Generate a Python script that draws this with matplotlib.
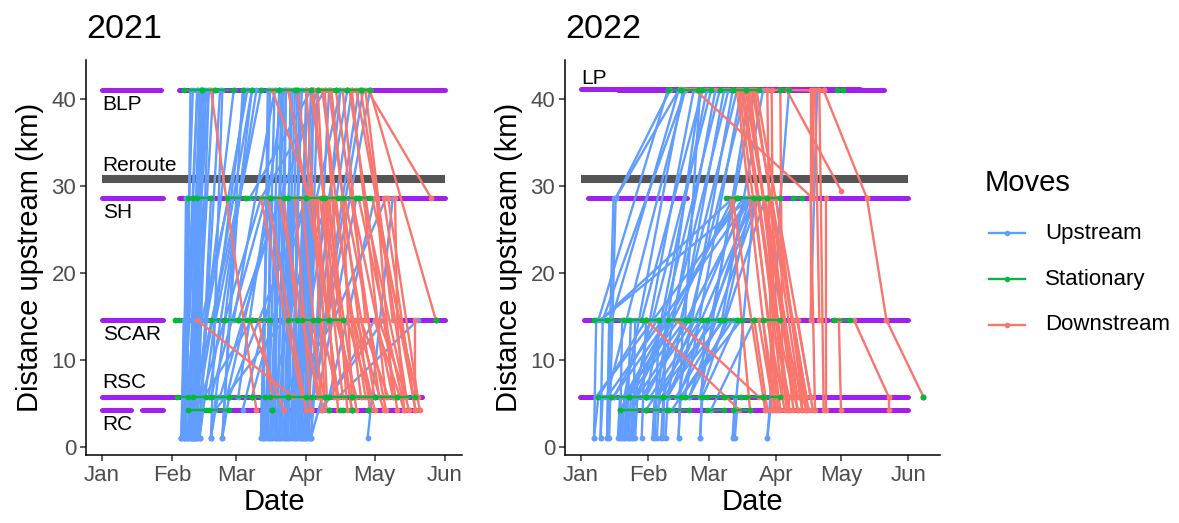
import matplotlib
matplotlib.use("Agg")
import matplotlib.pyplot as plt
import matplotlib.dates as mdates
from matplotlib.collections import LineCollection
from matplotlib.lines import Line2D
from datetime import datetime
import numpy as np

plt.rcParams['font.family'] = ['Liberation Sans', 'DejaVu Sans']

# ---------------- data (days after Jan 1, distance upstream km) ----------------
years = [2021, 2022]
month_ticks = ["Jan", "Feb", "Mar", "Apr", "May", "Jun"]
month_days = {2021: [0, 31, 59, 90, 120, 151], 2022: [0, 31, 59, 90, 120, 151]}
move_types = ["Upstream", "Stationary", "Downstream"]

# receiver-site coverage bars: (km, start day, end day)
sites_2021 = [(41.0, 0, 26), (41.0, 34, 151), (28.6, 0, 27), (28.6, 34, 151),
              (14.6, 0, 27), (14.6, 32, 121), (14.6, 128, 151), (5.8, 0, 141),
              (4.3, 0, 13), (4.3, 17.5, 27), (4.3, 37, 139)]
sites_2022 = [(41.2, 0, 129), (41.0, 17, 140), (28.6, 3, 49), (28.6, 67, 151),
              (14.6, 1.5, 114), (14.6, 116, 151), (5.8, -0.5, 151), (4.3, 18, 151)]
reroute_2021 = [(30.8, 0, 151)]
reroute_2022 = [(30.8, 0, 151)]

site_labels_2021 = ["BLP", "Reroute", "SH", "SCAR", "RSC", "RC"]
site_label_km_2021 = [39.4, 32.4, 27.0, 12.9, 7.4, 2.6]
site_labels_2022 = ["LP"]
site_label_km_2022 = [42.4]

# moves: (start day, start km, end day, end km)
up_2021 = [
    (35, 1.1, 40, 41.0), (35, 1.1, 38, 28.6), (35, 1.1, 36, 14.6), (35, 1.1, 37, 5.8),
    (36, 1.1, 42, 41.0), (36, 1.1, 41, 28.6), (38, 1.1, 43, 41.0), (38, 1.1, 40, 14.6),
    (38, 1.1, 42, 28.6), (39, 1.1, 44, 41.0), (40, 1.1, 45, 41.0), (40, 1.1, 43, 28.6),
    (40, 1.1, 49, 41.0), (41, 1.1, 45, 28.6), (42, 1.1, 47, 41.0), (42, 1.1, 44, 5.8),
    (43, 1.1, 48, 28.6), (43, 1.1, 52, 41.0), (48, 1.1, 53, 41.0), (48, 1.1, 51, 5.8),
    (53, 1.1, 60, 28.6), (53, 1.1, 56, 5.8), (43, 1.1, 63, 41.0), (48, 1.1, 66, 41.0),
    (53, 1.1, 62, 41.0), (40, 1.1, 58, 41.0),
    (37, 1.1, 39, 41.0), (39, 1.1, 41, 28.6), (41, 1.1, 43, 41.0), (36, 1.1, 37, 28.6),
    (42, 1.1, 44, 41.0), (37, 1.1, 38, 14.6), (39, 1.1, 40, 5.8), (41, 1.1, 42, 14.6),
    (36, 5.8, 42, 41.0), (37, 4.3, 45, 28.6), (38, 5.8, 47, 41.0), (40, 14.6, 46, 41.0),
    (41, 5.8, 60, 28.6), (42, 4.3, 66, 41.0), (44, 5.8, 70, 28.6), (46, 14.6, 64, 41.0),
    (48, 5.8, 72, 28.6), (50, 14.6, 70, 41.0), (52, 5.8, 62, 14.6), (55, 5.8, 75, 28.6),
    (58, 14.6, 76, 41.0), (60, 5.8, 80, 41.0), (62, 4.3, 85, 28.6), (45, 5.8, 66, 14.6),
    (50, 4.3, 80, 14.6), (56, 5.8, 90, 28.6), (44, 14.6, 56, 28.6), (47, 5.8, 68, 41.0),
    (70, 1.1, 73, 28.6), (70, 1.1, 74, 41.0), (71, 1.1, 72, 5.8), (72, 1.1, 76, 41.0),
    (72, 1.1, 75, 28.6), (73, 1.1, 78, 41.0), (74, 1.1, 76, 14.6), (74, 1.1, 79, 28.6),
    (75, 1.1, 80, 41.0), (76, 1.1, 78, 5.8), (77, 1.1, 81, 41.0), (77, 1.1, 80, 28.6),
    (78, 1.1, 84, 41.0), (79, 1.1, 82, 28.6), (80, 1.1, 83, 14.6), (80, 1.1, 85, 41.0),
    (81, 1.1, 84, 28.6), (82, 1.1, 86, 41.0), (83, 1.1, 85, 5.8), (83, 1.1, 88, 41.0),
    (84, 1.1, 86, 28.6), (85, 1.1, 90, 41.0), (86, 1.1, 88, 14.6), (86, 1.1, 89, 28.6),
    (87, 1.1, 92, 41.0), (88, 1.1, 91, 28.6), (89, 1.1, 93, 41.0), (89, 1.1, 90, 5.8),
    (90, 1.1, 95, 41.0), (91, 1.1, 94, 28.6), (92, 1.1, 100, 41.0), (92, 1.1, 96, 14.6),
    (92, 1.1, 97, 5.8),
    (71, 1.1, 73, 41.0), (73, 1.1, 74, 28.6), (75, 1.1, 77, 28.6), (76, 1.1, 79, 41.0),
    (78, 1.1, 80, 14.6), (79, 1.1, 81, 41.0), (81, 1.1, 83, 41.0), (82, 1.1, 83, 28.6),
    (84, 1.1, 87, 41.0), (85, 1.1, 86, 28.6), (87, 1.1, 89, 28.6), (88, 1.1, 90, 41.0),
    (90, 1.1, 92, 28.6), (91, 1.1, 93, 41.0),
    (88, 1.1, 110, 41.0), (90, 1.1, 115, 41.0), (85, 5.8, 108, 41.0), (92, 4.3, 118, 41.0),
    (95, 5.8, 112, 28.6), (98, 14.6, 113, 41.0), (100, 5.8, 120, 28.6), (102, 14.6, 125, 28.6),
    (117, 1.1, 128, 28.6), (104, 5.8, 139, 14.6), (97, 4.3, 120, 14.6), (95, 14.6, 105, 41.0),
    (70, 28.6, 98, 41.0), (65, 28.6, 92, 41.0), (60, 14.6, 95, 41.0), (75, 5.8, 105, 41.0),
    (80, 14.6, 100, 28.6), (66, 5.8, 90, 28.6), (62, 14.6, 78, 28.6), (78, 4.3, 95, 14.6),
    (82, 5.8, 102, 14.6), (96, 4.3, 124, 14.6),
]
down_2021 = [
    (48, 41.0, 68, 4.3), (42, 14.6, 84, 5.8), (65, 14.6, 80, 4.3), (70, 28.6, 88, 5.8),
    (73, 28.6, 90, 4.3), (69, 14.6, 75, 5.8), (78, 28.6, 95, 5.8), (82, 41.0, 100, 14.6),
    (85, 28.6, 92, 4.3), (86, 41.0, 104, 5.8), (90, 41.0, 98, 5.8), (92, 41.0, 110, 4.3),
    (94, 28.6, 104, 4.3), (95, 41.0, 102, 5.8), (96, 28.6, 106, 5.8), (97, 41.0, 114, 5.8),
    (98, 41.0, 108, 4.3), (99, 28.6, 112, 4.3), (100, 41.0, 118, 4.3), (100, 28.6, 105, 14.6),
    (101, 41.0, 106, 28.6), (102, 28.6, 116, 5.8), (103, 41.0, 122, 5.8), (104, 14.6, 110, 4.3),
    (105, 28.6, 120, 5.8), (106, 41.0, 116, 14.6), (107, 28.6, 125, 4.3), (108, 14.6, 118, 5.8),
    (109, 41.0, 130, 4.3), (110, 28.6, 128, 5.8), (111, 14.6, 120, 4.3), (112, 41.0, 138, 4.3),
    (113, 28.6, 132, 5.8), (114, 14.6, 126, 5.8), (115, 28.6, 135, 4.3), (116, 41.0, 128, 14.6),
    (117, 41.0, 145, 28.6), (118, 41.0, 147, 14.6), (119, 28.6, 140, 4.3), (120, 14.6, 133, 4.3),
    (121, 28.6, 128, 5.8), (122, 14.6, 134, 5.8), (124, 28.6, 138, 4.3), (126, 28.6, 139, 5.8),
    (129, 28.6, 130, 14.6), (130, 14.6, 133, 4.3), (138, 14.6, 138, 5.8), (75, 41.0, 92, 28.6),
    (80, 28.6, 86, 14.6), (88, 14.6, 96, 5.8), (91, 14.6, 99, 4.3), (93, 41.0, 103, 14.6),
    (96, 14.6, 104, 5.8), (88, 28.6, 97, 4.3), (103, 14.6, 112, 5.8), (106, 28.6, 110, 5.8),
    (95, 28.6, 99, 5.8), (110, 41.0, 125, 5.8), (112, 14.6, 124, 4.3), (114, 41.0, 134, 5.8),
]
stay_2021 = [
    (36, 41.0, 44, 41.0), (44, 41.0, 50, 41.0), (50, 41.0, 58, 41.0), (62, 41.0, 66, 41.0),
    (70, 41.0, 78, 41.0), (78, 41.0, 85, 41.0), (86, 41.0, 92, 41.0), (95, 41.0, 103, 41.0),
    (103, 41.0, 108, 41.0), (108, 41.0, 114, 41.0), (114, 41.0, 118, 41.0),
    (38, 28.6, 40, 28.6), (42, 28.6, 48, 28.6), (55, 28.6, 63, 28.6), (64, 28.6, 74, 28.6),
    (74, 28.6, 80, 28.6), (82, 28.6, 90, 28.6), (90, 28.6, 97, 28.6), (98, 28.6, 104, 28.6),
    (106, 28.6, 112, 28.6), (113, 28.6, 118, 28.6),
    (32, 14.6, 34, 14.6), (48, 14.6, 54, 14.6), (54, 14.6, 60, 14.6), (60, 14.6, 64, 14.6),
    (66, 14.6, 74, 14.6), (82, 14.6, 86, 14.6), (88, 14.6, 93, 14.6), (95, 14.6, 100, 14.6),
    (100, 14.6, 106, 14.6), (147, 14.6, 147, 14.6),
    (33, 5.8, 38, 5.8), (40, 5.8, 46, 5.8), (48, 5.8, 56, 5.8), (56, 5.8, 66, 5.8),
    (66, 5.8, 72, 5.8), (74, 5.8, 82, 5.8), (82, 5.8, 90, 5.8), (92, 5.8, 98, 5.8),
    (100, 5.8, 110, 5.8), (110, 5.8, 120, 5.8), (120, 5.8, 130, 5.8), (130, 5.8, 138, 5.8),
    (38, 4.3, 46, 4.3), (47, 4.3, 56, 4.3), (75, 4.3, 75, 4.3), (100, 4.3, 100, 4.3),
    (105, 4.3, 106, 4.3), (110, 4.3, 110, 4.3), (117, 4.3, 117, 4.3),
]

up_2022 = [
    (6, 1.1, 7, 14.6), (6, 1.1, 8, 5.8), (9, 1.1, 10, 14.6), (9, 1.1, 10, 5.8),
    (12, 1.1, 13, 14.6), (12, 1.1, 15, 28.6), (13, 1.1, 16, 28.6), (17, 1.1, 18, 5.8),
    (18, 1.1, 19, 14.6), (19, 1.1, 20, 5.8), (20, 1.1, 21, 5.8), (21, 1.1, 23, 14.6),
    (22, 1.1, 23, 5.8), (23, 1.1, 24, 5.8), (24, 1.1, 25, 14.6), (25, 1.1, 26, 5.8),
    (28, 1.1, 30, 14.6), (33, 1.1, 34, 5.8), (34, 1.1, 36, 14.6), (35, 1.1, 36, 5.8),
    (37, 1.1, 38, 5.8), (38, 1.1, 39, 14.6), (39, 1.1, 40, 5.8), (45, 1.1, 46, 5.8),
    (45, 1.1, 47, 14.6), (55, 1.1, 56, 5.8), (55, 1.1, 57, 14.6), (70, 1.1, 71, 5.8),
    (70, 1.1, 80, 28.6), (71, 1.1, 72, 4.3), (86, 1.1, 87, 4.3), (86, 1.1, 88, 5.8),
    (18, 1.1, 19, 4.3), (20, 1.1, 21, 4.3), (22, 1.1, 22, 4.3), (24, 1.1, 25, 4.3),
    (16, 28.6, 41, 41.0), (16, 28.6, 45, 41.0),
    (8, 14.6, 40, 41.0), (10, 14.6, 48, 41.0), (12, 5.8, 48, 41.0), (14, 14.6, 45, 41.0),
    (20, 5.8, 47, 41.0), (25, 5.8, 52, 41.0), (28, 14.6, 56, 41.0), (30, 5.8, 58, 41.0),
    (33, 14.6, 60, 41.0), (36, 5.8, 62, 41.0), (38, 14.6, 64, 41.0), (40, 5.8, 66, 41.0),
    (42, 14.6, 68, 41.0), (45, 5.8, 70, 41.0), (46, 14.6, 72, 41.0), (48, 5.8, 74, 41.0),
    (50, 14.6, 76, 41.0), (55, 5.8, 78, 41.0), (60, 14.6, 80, 41.0), (65, 14.6, 84, 41.0),
    (48, 14.6, 55, 41.0), (35, 5.8, 55, 41.0),
    (9, 14.6, 70, 28.6), (9, 14.6, 78, 28.6), (7, 5.8, 75, 28.6), (12, 5.8, 78, 28.6),
    (20, 5.8, 72, 28.6), (25, 5.8, 70, 28.6), (30, 5.8, 78, 28.6), (35, 4.3, 76, 28.6),
    (40, 5.8, 80, 28.6), (45, 5.8, 81, 28.6), (50, 5.8, 82, 28.6), (55, 5.8, 85, 28.6),
    (60, 14.6, 78, 28.6), (66, 14.6, 79, 28.6),
    (8, 5.8, 30, 14.6), (15, 5.8, 40, 14.6), (20, 5.8, 45, 14.6), (24, 4.3, 38, 14.6),
    (26, 5.8, 50, 14.6), (28, 5.8, 52, 14.6), (32, 5.8, 55, 14.6), (40, 5.8, 60, 14.6),
    (44, 5.8, 65, 14.6), (50, 5.8, 68, 14.6), (56, 5.8, 72, 14.6), (60, 4.3, 80, 14.6),
    (15, 5.8, 35, 14.6), (18, 4.3, 42, 14.6), (22, 5.8, 48, 14.6), (30, 4.3, 58, 14.6),
    (35, 5.8, 62, 14.6), (38, 5.8, 66, 14.6), (42, 4.3, 70, 14.6), (46, 5.8, 74, 14.6),
    (106, 14.6, 109, 41.0), (87, 4.3, 92, 28.6), (92, 28.6, 96, 41.0),
]
down_2022 = [
    (30, 14.6, 73, 4.3), (44, 14.6, 82, 5.8), (53, 41.0, 107, 28.6), (69, 28.6, 78, 4.3),
    (70, 28.6, 85, 4.3), (72, 41.0, 88, 5.8), (73, 41.0, 92, 4.3), (74, 41.0, 95, 5.8),
    (75, 41.0, 90, 14.6), (76, 41.0, 100, 4.3), (77, 41.0, 98, 5.8), (78, 41.0, 96, 4.3),
    (79, 41.0, 104, 5.8), (80, 41.0, 102, 4.3), (81, 41.0, 106, 5.8), (80, 28.6, 91, 4.3),
    (82, 28.6, 93, 5.8), (84, 28.6, 95, 4.3), (85, 28.6, 100, 5.8), (86, 41.0, 88, 4.3),
    (87, 28.6, 98, 4.3), (88, 41.0, 89, 4.3), (88, 28.6, 104, 4.3), (90, 28.6, 102, 5.8),
    (92, 41.0, 93, 5.8), (80, 14.6, 86, 4.3), (82, 14.6, 88, 5.8), (84, 14.6, 90, 4.3),
    (86, 14.6, 94, 4.3), (88, 14.6, 96, 5.8), (90, 14.6, 100, 4.3), (92, 14.6, 104, 4.3),
    (98, 14.6, 105, 4.3), (100, 14.6, 107, 4.3), (106, 28.6, 108, 4.3), (107, 41.0, 107, 28.6),
    (108, 41.0, 110, 14.6), (110, 41.0, 112, 4.3), (112, 41.0, 132, 28.6), (132, 28.6, 141, 14.6),
    (141, 14.6, 158, 5.8), (113, 28.6, 113, 4.3), (119, 14.6, 120, 4.3), (126, 14.6, 142, 5.8),
    (142, 5.8, 142, 4.3), (95, 41.0, 120, 29.5), (106, 41.0, 106, 14.6), (96, 5.8, 96, 4.3),
    (102, 5.8, 102, 4.3), (46, 41.2, 112, 41.0),
]
stay_2022 = [
    (40, 41.0, 46, 41.0), (46, 41.0, 54, 41.0), (56, 41.0, 60, 41.0), (64, 41.0, 70, 41.0),
    (70, 41.0, 76, 41.0), (76, 41.0, 82, 41.0), (92, 41.0, 96, 41.0), (118, 41.0, 121, 41.0),
    (67, 28.6, 72, 28.6), (72, 28.6, 80, 28.6), (82, 28.6, 86, 28.6), (86, 28.6, 92, 28.6),
    (98, 28.6, 102, 28.6),
    (6, 14.6, 12, 14.6), (12, 14.6, 20, 14.6), (22, 14.6, 28, 14.6), (30, 14.6, 36, 14.6),
    (40, 14.6, 48, 14.6), (50, 14.6, 56, 14.6), (58, 14.6, 64, 14.6), (66, 14.6, 72, 14.6),
    (74, 14.6, 80, 14.6), (84, 14.6, 92, 14.6), (117, 14.6, 124, 14.6),
    (8, 5.8, 14, 5.8), (14, 5.8, 22, 5.8), (22, 5.8, 30, 5.8), (30, 5.8, 38, 5.8),
    (38, 5.8, 46, 5.8), (48, 5.8, 56, 5.8), (58, 5.8, 66, 5.8), (66, 5.8, 74, 5.8),
    (76, 5.8, 84, 5.8), (84, 5.8, 92, 5.8), (158, 5.8, 158, 5.8),
    (18, 4.3, 30, 4.3), (30, 4.3, 40, 4.3), (40, 4.3, 50, 4.3), (58, 4.3, 66, 4.3),
    (70, 4.3, 78, 4.3),
]

panel_data = {
    2021: dict(sites=sites_2021, reroute=reroute_2021, up=up_2021, down=down_2021,
               stay=stay_2021, labels=site_labels_2021, label_km=site_label_km_2021),
    2022: dict(sites=sites_2022, reroute=reroute_2022, up=up_2022, down=down_2022,
               stay=stay_2022, labels=site_labels_2022, label_km=site_label_km_2022),
}

# ---------------- styling ----------------
W, H = 1179, 523
C_UP, C_STAY, C_DOWN = "#619CFF", "#00BA38", "#F8766D"
C_SITE, C_REROUTE = "#A020F0", "#555555"
TICK_COL = "#4D4D4D"
LW = 1.7
MS = 17

fig = plt.figure(figsize=(W / 100, H / 100), dpi=100)
axes_px = {2021: (86, 376, -7.0, 158.5), 2022: (565, 375, -7.4, 165.7)}


def draw_moves(ax, base, segs, color, z):
    if not segs:
        return
    arr = np.array(segs, dtype=float)
    lines = [[(base + a, b), (base + c, d)] for a, b, c, d in arr]
    ax.add_collection(LineCollection(lines, colors=color, linewidths=LW, zorder=z,
                                     capstyle="round"))
    xs = np.concatenate([base + arr[:, 0], base + arr[:, 2]])
    ys = np.concatenate([arr[:, 1], arr[:, 3]])
    ax.scatter(xs, ys, s=MS, color=color, zorder=z + 0.1, linewidths=0)


for yr in years:
    left, width, x0, x1 = axes_px[yr]
    ax = fig.add_axes([left / W, 68 / H, width / W, 395 / H])
    d = panel_data[yr]
    base = mdates.date2num(datetime(yr, 1, 1))

    for km, s, e in d["sites"]:
        ax.plot([base + s, base + e], [km, km], color=C_SITE, lw=3.6,
                solid_capstyle="round", zorder=1)
    for km, s, e in d["reroute"]:
        ax.plot([base + s, base + e], [km, km], color=C_REROUTE, lw=5.8,
                solid_capstyle="butt", zorder=1.5)

    draw_moves(ax, base, d["up"], C_UP, 2)
    draw_moves(ax, base, d["down"], C_DOWN, 3)
    draw_moves(ax, base, d["stay"], C_STAY, 4)

    for lab, km in zip(d["labels"], d["label_km"]):
        ax.text(base + 0.3, km, lab, fontsize=15, ha="left", va="center",
                color="black", zorder=6)

    ax.set_xlim(base + x0, base + x1)
    ax.set_ylim(-0.9, 44.5)
    ax.set_yticks([0, 10, 20, 30, 40])
    ax.set_xticks([base + m for m in month_days[yr]])
    ax.set_xticklabels(month_ticks)
    for sp in ["top", "right"]:
        ax.spines[sp].set_visible(False)
    for sp in ["left", "bottom"]:
        ax.spines[sp].set_linewidth(1.1)
        ax.spines[sp].set_color("black")
    ax.tick_params(axis="both", labelsize=16, labelcolor=TICK_COL, length=4,
                   width=1.1, color="#333333", pad=3)
    ax.set_xlabel("Date", fontsize=21, labelpad=2)
    ax.set_ylabel("Distance upstream (km)", fontsize=21, labelpad=5)
    ax.set_title(str(yr), fontsize=24.5, loc="left", pad=16, x=0.0)

# legend
fig.text(985 / W, 1 - 183 / H, "Moves", fontsize=21, ha="left", va="center")
for i, (lab, col) in enumerate(zip(move_types, [C_UP, C_STAY, C_DOWN])):
    yy = 1 - (233 + 46 * i) / H
    fig.add_artist(Line2D([989 / W, 1025 / W], [yy, yy], color=col, lw=LW,
                          transform=fig.transFigure))
    fig.add_artist(Line2D([1007 / W], [yy], color=col, marker="o", markersize=4,
                          markeredgewidth=0, transform=fig.transFigure))
    fig.text(1045 / W, yy, lab, fontsize=16, ha="left", va="center")

fig.savefig("out.png", dpi=100)
